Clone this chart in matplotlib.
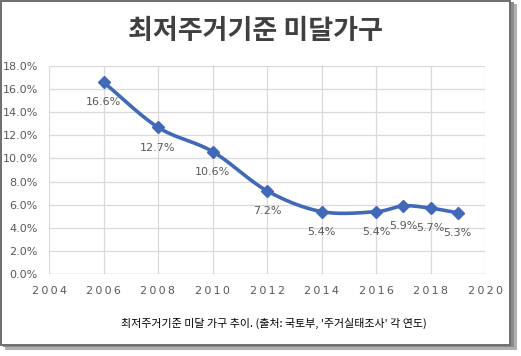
import numpy as np
import matplotlib
matplotlib.use("Agg")
from matplotlib import pyplot as plt
from matplotlib.patches import Rectangle

plt.rcParams['font.family'] = ['Noto Sans CJK KR', 'DejaVu Sans']

# data
years = [2006, 2008, 2010, 2012, 2014, 2016, 2017, 2018, 2019]
rates = [16.6, 12.7, 10.6, 7.2, 5.4, 5.4, 5.9, 5.7, 5.3]
x_ticks = [2004, 2006, 2008, 2010, 2012, 2014, 2016, 2018, 2020]
y_ticks = [0, 2, 4, 6, 8, 10, 12, 14, 16, 18]
title = "최저주거기준 미달가구"
caption = "최저주거기준 미달 가구 추이. (출처: 국토부, '주거실태조사' 각 연도)"

W, H = 521, 356
fig = plt.figure(figsize=(W / 100, H / 100), dpi=100)

# frame with drop shadow
fig.patches.append(Rectangle((5 / W, 1 - 350 / H), 512 / W, 346 / H, transform=fig.transFigure,
                             facecolor='#b0b0b0', edgecolor='none', zorder=-3))
fig.patches.append(Rectangle((3 / W, 1 - 347 / H), 511 / W, 345 / H, transform=fig.transFigure,
                             facecolor='#8a8a8a', edgecolor='none', zorder=-2))
fig.patches.append(Rectangle((1 / W, 1 - 345 / H), 509 / W, 344 / H, transform=fig.transFigure,
                             facecolor='white', edgecolor='#6e6e6e', linewidth=1.4, zorder=-1))

ax = fig.add_axes([49 / W, 1 - 274 / H, (485 - 49) / W, (274 - 66) / H])
ax.set_zorder(2)
ax.set_facecolor('none')

# smooth curve through the points (Catmull-Rom style, like Excel's smoothed line)
xs = np.array(years, dtype=float)
ys = np.array(rates, dtype=float)
px = np.concatenate([[2 * xs[0] - xs[1]], xs, [2 * xs[-1] - xs[-2]]])
py = np.concatenate([[2 * ys[0] - ys[1]], ys, [2 * ys[-1] - ys[-2]]])
cx, cy = [], []
t = np.linspace(0, 1, 30)
for i in range(1, len(px) - 2):
    p0, p1, p2, p3 = [np.array([px[j], py[j]]) for j in range(i - 1, i + 3)]
    b1 = p1 + (p2 - p0) / 6
    b2 = p2 - (p3 - p1) / 6
    seg = ((1 - t)[:, None] ** 3 * p1 + 3 * ((1 - t) ** 2 * t)[:, None] * b1
           + 3 * ((1 - t) * t ** 2)[:, None] * b2 + (t ** 3)[:, None] * p2)
    cx.extend(seg[:, 0])
    cy.extend(seg[:, 1])

ax.plot(cx, cy, color='#4169b8', linewidth=2.6, solid_capstyle='round', zorder=3)
ax.plot(years, rates, linestyle='none', marker='D', markersize=6.5, color='#4169b8', zorder=4)

for x, y in zip(years, rates):
    ax.annotate(f"{y:.1f}%", (x, y), xytext=(0, -11), textcoords='offset points',
                ha='center', va='top', fontsize=8, color='#595959', family='DejaVu Sans')

ax.set_xlim(2004, 2020)
ax.set_ylim(0, 18)
ax.set_xticks(x_ticks)
ax.set_xticklabels(["\u2009".join(str(v)) for v in x_ticks], family='DejaVu Sans', fontsize=8)
ax.set_yticks(y_ticks)
ax.set_yticklabels([f"{v:.1f}%" for v in y_ticks], family='DejaVu Sans', fontsize=8)
ax.tick_params(colors='#595959', length=0)
ax.tick_params(axis='x', pad=9)
ax.tick_params(axis='y', pad=8)
ax.grid(True, color='#d9d9d9', linewidth=0.9)
ax.set_axisbelow(True)
for s in ax.spines.values():
    s.set_visible(False)
ax.axhline(0, color='#bfbfbf', linewidth=0.9, zorder=1)

fig.text(255 / W, 1 - 31 / H, title, ha='center', va='center', fontsize=19.5,
         fontweight='bold', color='#404040')
fig.text(274 / W, 1 - 323 / H, caption, ha='center', va='center', fontsize=7.9, color='black')

fig.savefig('out.png', dpi=100)
